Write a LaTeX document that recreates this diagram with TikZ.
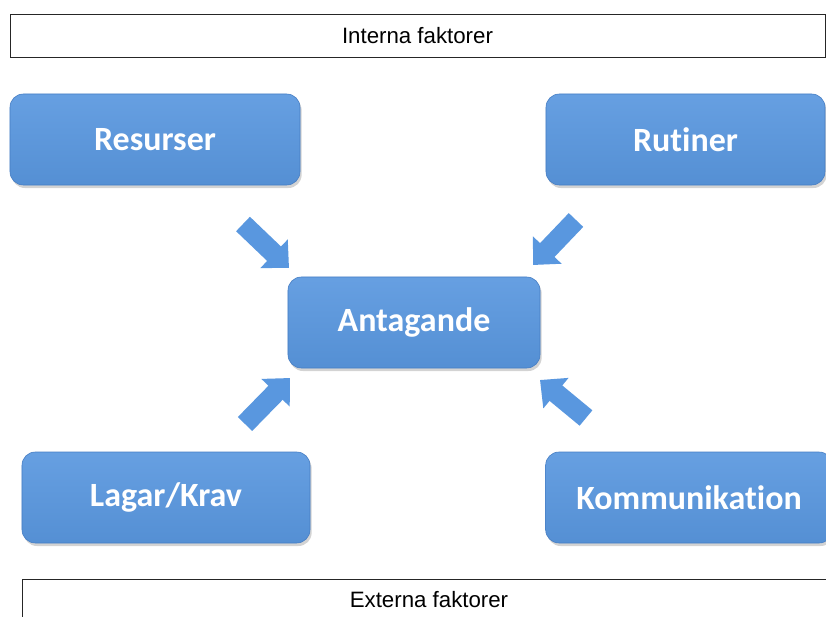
\documentclass[tikz,border=0pt]{standalone}
\usepackage{fontspec}
\setmainfont{Liberation Sans}
\newfontfamily\boxfont[Ligatures=NoCommon]{Carlito}
\usetikzlibrary{arrows.meta,shadows}
\definecolor{boxblue}{RGB}{89,151,223}
\definecolor{boxedge}{RGB}{70,125,195}
\tikzset{
  factorbar/.style={draw=black!85, line width=0.8pt, fill=white, inner sep=0pt},
  factortext/.style={font=\fontsize{19}{22}\selectfont},
  bluebox/.style={rounded corners=0.4cm, top color=boxblue!92!white, bottom color=boxblue!95!black,
    draw=boxedge, line width=0.5pt, drop shadow={shadow xshift=0.5mm, shadow yshift=-0.9mm, opacity=0.35},
    text=white, font=\boxfont\bfseries\fontsize{29}{35}\selectfont, inner sep=0pt, minimum height=2.73cm},
  blockarrow/.style={line width=0.6cm, draw=boxblue, line cap=butt,
    -{Triangle[length=0.62cm, width=1.15cm]}},
}
\begin{document}
\begin{tikzpicture}[x=0.03cm, y=-0.03cm]
\useasboundingbox (0,0) rectangle (826,617);
\clip (0,0) rectangle (826,617);
% factor bars
\node[factorbar, factortext, minimum width=24.45cm, minimum height=1.29cm] (intern) at (417.5,35.5) {Interna faktorer};
\node[factorbar, minimum width=24.3cm, minimum height=1.8cm] (extern) at (427,609) {};
\node[factortext] (externtext) at (429,600) {Externa faktorer};
% boxes
\node[bluebox, minimum width=8.7cm] (resurser) at (155,139.5) {Resurser};
\node[bluebox, minimum width=8.37cm] (rutiner) at (685.5,139.5) {Rutiner};
\node[bluebox, minimum width=7.56cm] (antagande) at (414,322.5) {Antagande};
\node[bluebox, minimum width=8.64cm] (lagar) at (166,497.5) {Lagar/Krav};
\node[bluebox, minimum width=8.6cm] (komm) at (689,497.5) {Kommunikation};
% block arrows
\coordinate (tl0) at (243,224);
\coordinate (tl1) at (289,268);
\coordinate (tr0) at (576,220);
\coordinate (tr1) at (533,265);
\coordinate (bl0) at (245,424);
\coordinate (bl1) at (290,378);
\coordinate (br0) at (586,418);
\coordinate (br1) at (540,380);
\draw[blockarrow] (tl0) -- (tl1);
\draw[blockarrow] (tr0) -- (tr1);
\draw[blockarrow] (bl0) -- (bl1);
\draw[blockarrow] (br0) -- (br1);
\end{tikzpicture}
\end{document}
